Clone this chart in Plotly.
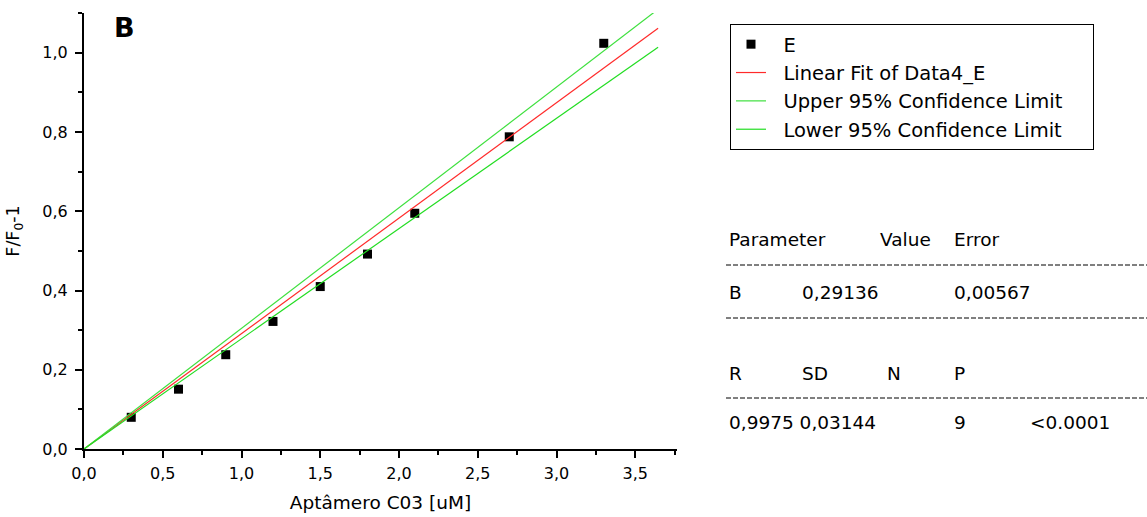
import plotly.graph_objects as go

# ---- data ----
conc = [0.3, 0.6, 0.9, 1.2, 1.5, 1.8, 2.1, 2.7, 3.3]
ratio = [0.080, 0.151, 0.238, 0.322, 0.410, 0.492, 0.595, 0.788, 1.024]

fit_x = [0.0, 3.645]
fit_y = [0.0, 1.062]
upper_y = [0.0, 1.110]
lower_y = [0.0, 1.014]

series_names = ["E", "Linear Fit of Data4_E", "Upper 95% Confidence Limit", "Lower 95% Confidence Limit"]

header_row = ["Parameter", "Value", "Error"]
param_row = ["B", "0,29136", "0,00567"]
stat_head = ["R", "SD", "N", "P"]
stat_vals = ["0,9975 0,03144", "9", "<0.0001"]

FONT = "DejaVu Sans, Arial, Liberation Sans"

# plot area in pixels
W, H = 1147, 517
L, R, T, B = 84, 470, 13, 68
PW, PH = W - L - R, H - T - B


def px(xp):
    return (xp - L) / PW


def py(yp):
    return (H - B - yp) / PH


NB = "\u00a0"


def lname(s, tail=0):
    return NB * 2 + s + NB * tail


fig = go.Figure()
fig.add_trace(go.Scatter(x=conc, y=ratio, mode="markers", name=lname(series_names[0]),
                         marker=dict(symbol="square", size=9, color="black")))
fig.add_trace(go.Scatter(x=fit_x, y=fit_y, mode="lines", name=lname(series_names[1]),
                         line=dict(color="#ff2a2a", width=1.2)))
fig.add_trace(go.Scatter(x=fit_x, y=upper_y, mode="lines", name=lname(series_names[2], 4),
                         line=dict(color="#3ee03e", width=1.2)))
fig.add_trace(go.Scatter(x=fit_x, y=lower_y, mode="lines", name=lname(series_names[3]),
                         line=dict(color="#22dd22", width=1.2)))

ann = []
ann.append(dict(x=px(112), y=py(28), text="<b>B</b>", font=dict(size=27, family=FONT, color="black"),
                xanchor="left", yanchor="middle"))

# table
tf = dict(size=18.5, family=FONT, color="black")
rows = [
    (header_row, [727, 878, 952], 239),
    (param_row, [727, 800, 952], 292),
    (stat_head, [727, 800, 885, 952], 373),
    (stat_vals, [727, 952, 1028], 422),
]
for texts, xs, yy in rows:
    for txt, xx in zip(texts, xs):
        ann.append(dict(x=px(xx), y=py(yy), text=txt, font=tf, xanchor="left", yanchor="middle"))

for a in ann:
    a.update(xref="paper", yref="paper", showarrow=False)

shapes = []
for yy in [265, 318, 398]:
    shapes.append(dict(type="line", xref="paper", yref="paper", x0=px(726), x1=px(1147),
                       y0=py(yy), y1=py(yy), line=dict(color="black", width=1, dash="5px,2px")))

axis_common = dict(showgrid=False, zeroline=False, showline=True, linecolor="black", linewidth=2,
                   ticks="outside", ticklen=7, tickwidth=1.5, tickcolor="black",
                   tickfont=dict(size=16, family=FONT, color="black"), tickformat=".1f",
                   mirror=False, automargin=False)

fig.update_layout(
    width=W, height=H,
    margin=dict(l=L, r=R, t=T, b=B),
    paper_bgcolor="white", plot_bgcolor="white",
    separators=", ",
    font=dict(family=FONT, color="black"),
    showlegend=True,
    legend=dict(x=px(730), y=py(24), xanchor="left", yanchor="top",
                bordercolor="black", borderwidth=1, bgcolor="white",
                font=dict(size=19.5, family=FONT, color="black"),
                tracegroupgap=0),
    annotations=ann,
    shapes=shapes,
    xaxis=dict(range=[0, 3.765], dtick=0.5, tick0=0,
               minor=dict(dtick=0.25, ticklen=4, ticks="outside", tickcolor="black", tickwidth=1.5),
               title=dict(text="Aptâmero C03 [uM]", font=dict(size=18.5, family=FONT), standoff=14),
               ticklabelstandoff=2,
               **axis_common),
    yaxis=dict(range=[0, 1.1005], dtick=0.2, tick0=0,
               minor=dict(dtick=0.1, ticklen=4, ticks="outside", tickcolor="black", tickwidth=1.5),
               title=dict(text="F/F<sub>0</sub>-1", font=dict(size=17.5, family=FONT), standoff=18),
               ticklabelstandoff=4,
               **axis_common),
)

fig.write_html("out.html")
